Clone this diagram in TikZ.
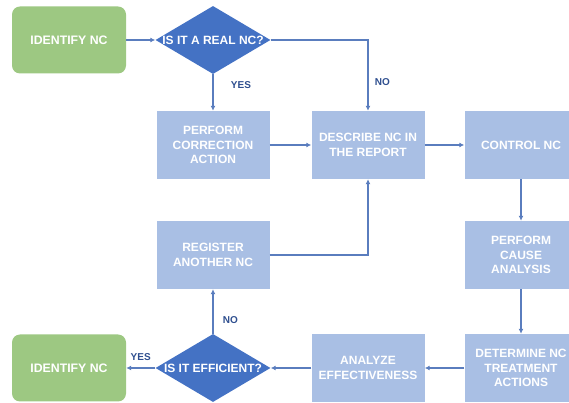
\documentclass[tikz,border=0pt]{standalone}
\usepackage{fontspec}
\setmainfont{Liberation Sans}
\usetikzlibrary{shapes.geometric,arrows.meta}
\definecolor{vert}{HTML}{9DC882}
\definecolor{bleuclair}{HTML}{A9BFE4}
\definecolor{bleufonce}{HTML}{4472C4}
\definecolor{trait}{HTML}{5A7DBE}
\definecolor{etiq}{HTML}{2F4F8F}
\begin{document}
\begin{tikzpicture}[->, >={Latex[length=5pt,width=5pt]}, node distance=153pt,
    debut/.style={rectangle, rounded corners=8pt, fill=vert, minimum width=114pt, minimum height=67pt, text=white, font=\bfseries\fontsize{12.3}{14.5}\selectfont},
    etape/.style={rectangle, fill=bleuclair, minimum width=113pt, minimum height=68pt, align=center, text=white, font=\bfseries\fontsize{12}{14.5}\selectfont},
    choix/.style={diamond, fill=bleufonce, inner sep=0pt, minimum width=115pt, minimum height=68pt, text=white, font=\bfseries\fontsize{12}{14}\selectfont},
    fleche/.style={draw=trait, line width=1.2pt},
    rep/.style={text=etiq, font=\bfseries\fontsize{10}{12}\selectfont}]
        \useasboundingbox (0,0) rectangle (569pt,403pt);
        \clip (0,0) rectangle (569pt,403pt);

        % Nœuds
        \node[debut] (ident1) at (69pt,363pt) {IDENTIFY NC};
        \node[choix, right of=ident1, node distance=144pt] (reel) {\makebox[0pt]{IS IT A REAL NC?}};
        \node[etape, below of=reel, node distance=105pt] (corrige) {PERFORM\\CORRECTION\\ACTION};
        \node[etape, right of=corrige, node distance=155pt] (decrit) {DESCRIBE NC IN\\THE REPORT};
        \node[etape, right of=decrit] (controle) {CONTROL NC};
        \node[etape, below of=controle, node distance=110pt] (cause) {PERFORM\\CAUSE\\ANALYSIS};
        \node[etape, below of=cause, node distance=113pt] (traite) {DETERMINE NC\\TREATMENT\\ACTIONS};
        \node[etape, left of=traite] (analyse) {ANALYZE\\EFFECTIVENESS};
        \node[choix, left of=analyse, node distance=155pt] (efficace) {\makebox[0pt]{IS IT EFFICIENT?}};
        \node[debut, left of=efficace, node distance=144pt] (ident2) {IDENTIFY NC};
        \node[etape, above of=efficace, node distance=113pt] (autre) {REGISTER\\ANOTHER NC};

        % Transitions du haut
        \path[fleche] (ident1) -- (reel);
        \path[fleche] (reel.east) -| node[rep, pos=0.8, right=3pt] {NO} (decrit.north);
        \path[fleche] (reel) -- node[rep, pos=0.3, right=14pt] {YES} (corrige);
        \path[fleche] (corrige) -- (decrit);
        \path[fleche] (decrit) -- (controle);

        % Transitions du bas
        \path[fleche] (controle) -- (cause);
        \path[fleche] (cause) -- (traite);
        \path[fleche] (traite) -- (analyse);
        \path[fleche] (analyse) -- (efficace.east);
        \path[fleche] (efficace.west) -- node[rep, above=3pt] {YES} (ident2);
        \path[fleche] (efficace.north) -- node[rep, pos=0.3, right=6pt] {NO} (autre);
        \path[fleche] (autre.east) -| (decrit.south);
    \end{tikzpicture}
\end{document}
